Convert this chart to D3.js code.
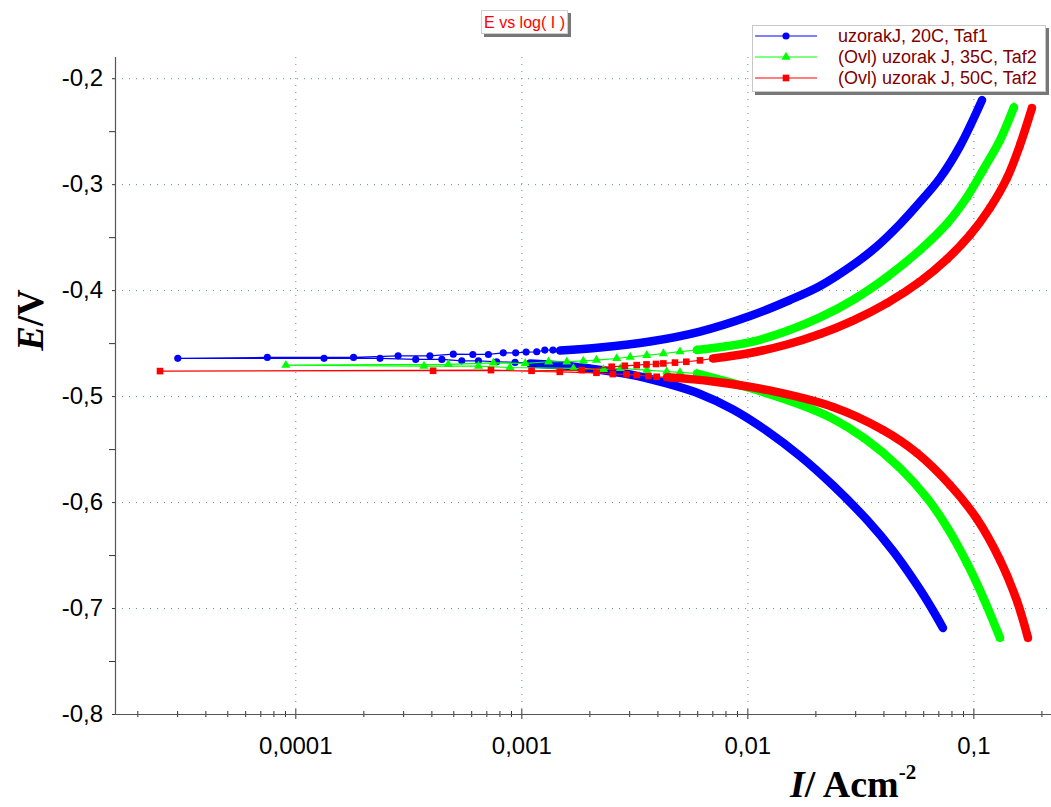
<!DOCTYPE html>
<html><head><meta charset="utf-8">
<script src="https://cdn.jsdelivr.net/npm/d3@7"></script>
<style>body{margin:0;background:#fff;} svg{display:block;}</style>
</head><body>
<svg id="chart" width="1051" height="807"></svg>
<script>
// ---------- data ----------
const seriesNames = ["uzorakJ, 20C, Taf1", "(Ovl) uzorak J, 35C, Taf2", "(Ovl) uzorak J, 50C, Taf2"];
const titleText = "E vs log( I )";
const xTickValues = [0.0001, 0.001, 0.01, 0.1];
const xTickLabels = ["0,0001", "0,001", "0,01", "0,1"];
const yTickValues = [-0.2, -0.3, -0.4, -0.5, -0.6, -0.7, -0.8];
const yTickLabels = ["-0,2", "-0,3", "-0,4", "-0,5", "-0,6", "-0,7", "-0,8"];

// uzorakJ, 20C (E in V, I in A/cm2), scan order
const blueCathE = [-0.7188,-0.7023,-0.6782,-0.6461,-0.6169,-0.5843,-0.5565,-0.5329,-0.5126,-0.4980,-0.4876,-0.4796,-0.4740,-0.4709,-0.4692];
const blueCathI = [0.07336,0.06627,0.0563,0.04408,0.03383,0.02393,0.01709,0.01221,0.00864,0.006173,0.004321,0.003026,0.002012,0.001483,0.001093];
const blueNearE = [-0.4682,-0.4676,-0.4667,-0.4667,-0.4654,-0.4654,-0.4644,-0.4644,-0.4644,-0.4635,-0.4635,-0.4620,-0.4620,-0.4604,-0.4607,-0.4607,-0.4592,-0.4592,-0.4585,-0.4582,-0.4566,-0.4566];
const blueNearI = [0.000938,0.000778,0.000646,0.000545,0.000445,0.000341,0.000237,0.000134,0.0000302,0.0000752,0.000181,0.000285,0.000394,0.000500,0.000610,0.000715,0.000832,0.000944,0.00105,0.00117,0.00127,0.00138];
const blueAnodE = [-0.4570,-0.4542,-0.4485,-0.4391,-0.4244,-0.4093,-0.3961,-0.3782,-0.3603,-0.3377,-0.3169,-0.2943,-0.2641,-0.2207];
const blueAnodI = [0.001483,0.002229,0.00371,0.006173,0.01027,0.01544,0.02097,0.02845,0.0367,0.04735,0.05803,0.07116,0.08726,0.1092];

// (Ovl) uzorak J, 35C
const greenCathE = [-0.7282,-0.6895,-0.6575,-0.6235,-0.5961,-0.5678,-0.5405,-0.5207,-0.5075,-0.4924,-0.4787];
const greenCathI = [0.1312,0.1103,0.09369,0.07641,0.06233,0.04735,0.03332,0.02357,0.01684,0.01027,0.005986];
const greenNearE = [-0.4777,-0.4768,-0.4755,-0.4739,-0.4748,-0.4739,-0.4730,-0.4717,-0.4717,-0.4708,-0.4701,-0.4686,-0.4692,-0.4676,-0.4676,-0.4668,-0.4660,-0.4645,-0.4631,-0.4615,-0.4598,-0.4581];
const greenNearI = [0.005035,0.004397,0.00359,0.00274,0.00231,0.00170,0.000891,0.000646,0.000371,0.0000908,0.000475,0.000752,0.00104,0.00132,0.00159,0.00188,0.00215,0.002642,0.00303,0.003587,0.00425,0.005035];
const greenAnodE = [-0.4565,-0.4532,-0.4485,-0.4386,-0.4258,-0.4093,-0.3876,-0.3622,-0.3372,-0.3122,-0.2867,-0.2584,-0.2273];
const greenAnodI = [0.005986,0.007964,0.01059,0.01497,0.02097,0.02934,0.04147,0.05803,0.07641,0.09369,0.1103,0.1312,0.1512];

// (Ovl) uzorak J, 50C
const redCathE = [-0.7282,-0.6933,-0.6546,-0.6159,-0.5839,-0.5537,-0.5320,-0.5103,-0.4942,-0.4862,-0.4823];
const redCathI = [0.1744,0.1559,0.1311,0.1037,0.0788,0.0563,0.03982,0.02393,0.01221,0.007047,0.00441];
const redNearE = [-0.4818,-0.4811,-0.4802,-0.4795,-0.4792,-0.4780,-0.4771,-0.4755,-0.4764,-0.4761,-0.4761,-0.4755,-0.4723,-0.4714,-0.4708,-0.4701,-0.4697,-0.4692,-0.4684,-0.4676,-0.4663];
const redNearI = [0.00397,0.00365,0.00324,0.00292,0.00254,0.00215,0.00148,0.000734,0.0000252,0.000407,0.00111,0.00185,0.00251,0.00287,0.00324,0.00358,0.003944,0.00425,0.004784,0.00537,0.006173];
const redAnodE = [-0.4645,-0.4593,-0.4513,-0.4414,-0.4287,-0.4122,-0.3919,-0.3707,-0.3480,-0.3225,-0.2942,-0.2631,-0.2282];
const redAnodI = [0.007047,0.01027,0.01497,0.02097,0.02934,0.04147,0.05803,0.07641,0.09661,0.1184,0.1409,0.1608,0.1816];

// ---------- chart ----------
const zip = (E, I) => E.map((e, k) => ({e, i: I[k]}));
const series = [
  {name: seriesNames[0], color: "#0000ff", symbol: d3.symbolCircle, size: 40,
   cath: zip(blueCathE, blueCathI), near: zip(blueNearE, blueNearI), anod: zip(blueAnodE, blueAnodI)},
  {name: seriesNames[1], color: "#00ff00", symbol: d3.symbolTriangle, size: 36,
   cath: zip(greenCathE, greenCathI), near: zip(greenNearE, greenNearI), anod: zip(greenAnodE, greenAnodI)},
  {name: seriesNames[2], color: "#ff0000", symbol: d3.symbolSquare, size: 44,
   cath: zip(redCathE, redCathI), near: zip(redNearE, redNearI), anod: zip(redAnodE, redAnodI)}
];

const svg = d3.select("#chart");
const L = 115, R = 1050, T = 57, B = 714;
const x = d3.scaleLog().domain([1.593e-5, 0.2183]).range([L, R]);
const y = d3.scaleLinear().domain([-0.8, -0.18]).range([B, T]);

const gridColor = "#5a9494";
// grid
svg.append("g").selectAll("line").data(yTickValues.filter(v => v > -0.8)).join("line")
  .attr("x1", L).attr("x2", R).attr("y1", d => y(d) + 0.5).attr("y2", d => y(d) + 0.5)
  .attr("stroke", gridColor).attr("stroke-width", 1).attr("stroke-dasharray", "1,6");
svg.append("g").selectAll("line").data(xTickValues).join("line")
  .attr("x1", d => x(d) + 0.5).attr("x2", d => x(d) + 0.5).attr("y1", T).attr("y2", B)
  .attr("stroke", gridColor).attr("stroke-width", 1).attr("stroke-dasharray", "1,6");

// y axis
const yMinor = d3.range(-0.75, -0.15, 0.1);
const gy = svg.append("g").attr("transform", `translate(${L},0)`)
  .call(d3.axisLeft(y).tickValues(yTickValues).tickFormat((d, k) => yTickLabels[k]).tickSize(3).tickPadding(9));
gy.select(".domain").remove();
gy.selectAll("text").attr("font-family", "Liberation Sans, Arial, sans-serif").attr("font-size", 24).attr("fill", "#000");
gy.selectAll("line").attr("stroke", "#333");
const gyMinor = svg.append("g").attr("transform", `translate(${L},0)`)
  .call(d3.axisLeft(y).tickValues(yMinor).tickFormat("").tickSize(6));
gyMinor.select(".domain").remove();
gyMinor.selectAll("line").attr("stroke", "#333");

// x axis
const xMinor = [];
[1e-5, 1e-4, 1e-3, 1e-2, 1e-1].forEach(dec => { for (let k = 2; k <= 9; k++) { const v = dec * k; if (v >= x.domain()[0] && v <= x.domain()[1]) xMinor.push(v); } });
const gx = svg.append("g").attr("transform", `translate(0,${B})`)
  .call(d3.axisBottom(x).tickValues(xTickValues).tickFormat((d, k) => xTickLabels[k]).tickSize(5).tickPadding(18));
gx.select(".domain").remove();
gx.selectAll(".tick line").attr("y1", -5).attr("stroke", "#333");
gx.selectAll("text").attr("font-family", "Liberation Sans, Arial, sans-serif").attr("font-size", 24).attr("fill", "#000");
const gxMinor = svg.append("g").attr("transform", `translate(0,${B})`)
  .call(d3.axisBottom(x).tickValues(xMinor).tickFormat("").tickSize(3));
gxMinor.select(".domain").remove();
gxMinor.selectAll(".tick line").attr("y1", -3).attr("stroke", "#333");

// axis lines
svg.append("line").attr("x1", L + 0.5).attr("x2", L + 0.5).attr("y1", T).attr("y2", B + 0.5).attr("stroke", "#555").attr("stroke-width", 1.2);
svg.append("line").attr("x1", L).attr("x2", R + 1).attr("y1", B + 0.5).attr("y2", B + 0.5).attr("stroke", "#555").attr("stroke-width", 1.2);

// series
const thin = d3.line().x(d => x(d.i)).y(d => y(d.e));
const band = d3.line().x(d => x(d.i)).y(d => y(d.e)).curve(d3.curveCatmullRom.alpha(0.5));
const plot = svg.append("g");
series.forEach(s => {
  const g = plot.append("g");
  const all = s.cath.concat(s.near, s.anod);
  g.append("path").attr("d", thin(all)).attr("fill", "none").attr("stroke", s.color).attr("stroke-width", 1.2);
  [s.cath, s.anod].forEach(part => {
    g.append("path").attr("d", band(part)).attr("fill", "none").attr("stroke", s.color)
      .attr("stroke-width", 8.5).attr("stroke-linecap", "round").attr("stroke-linejoin", "round");
  });
  g.selectAll("path.m").data(all).join("path").attr("class", "m")
    .attr("transform", d => `translate(${x(d.i)},${y(d.e)})`)
    .attr("d", d3.symbol().type(s.symbol).size(s.size)).attr("fill", s.color);
});

// y label
svg.append("text").attr("transform", "translate(43,320) rotate(-90)").attr("text-anchor", "middle")
  .attr("font-family", "Liberation Serif, Times New Roman, serif").attr("font-weight", "bold").attr("font-size", 37)
  .call(t => { t.append("tspan").attr("font-style", "italic").text("E"); t.append("tspan").text("/V"); });

// x label
svg.append("text").attr("x", 790).attr("y", 797)
  .attr("font-family", "Liberation Serif, Times New Roman, serif").attr("font-weight", "bold").attr("font-size", 38)
  .call(t => {
    t.append("tspan").attr("font-style", "italic").text("I");
    t.append("tspan").text("/ Acm");
    t.append("tspan").attr("font-size", 21).attr("dy", -18).text("-2");
  });

// title
const tg = svg.append("g");
tg.append("rect").attr("x", 484).attr("y", 13).attr("width", 87).attr("height", 24).attr("fill", "#777");
tg.append("rect").attr("x", 481.5).attr("y", 10.5).attr("width", 86).attr("height", 23).attr("fill", "#fff").attr("stroke", "#d0d0d0");
tg.append("text").attr("x", 524.5).attr("y", 28).attr("text-anchor", "middle")
  .attr("font-family", "Liberation Sans, Arial, sans-serif").attr("font-size", 16).attr("fill", "#ff0000").text(titleText);

// legend
const lg = svg.append("g");
lg.append("rect").attr("x", 755).attr("y", 28).attr("width", 294).attr("height", 67).attr("fill", "#777");
lg.append("rect").attr("x", 752.5).attr("y", 25.5).attr("width", 293).attr("height", 66).attr("fill", "#fff").attr("stroke", "#c8c8c8");
const rows = [36, 57, 78];
series.forEach((s, k) => {
  const r = lg.append("g").attr("transform", `translate(0,${rows[k]})`);
  r.append("line").attr("x1", 755).attr("x2", 817).attr("stroke", s.color).attr("stroke-width", 1.2);
  r.append("path").attr("transform", "translate(786,0)").attr("d", d3.symbol().type(s.symbol).size(s.size)).attr("fill", s.color);
  r.append("text").attr("x", 838).attr("y", 0).attr("dy", "0.35em")
    .attr("font-family", "Liberation Sans, Arial, sans-serif").attr("font-size", 18).attr("fill", "#800000").text(s.name);
});
</script>
</body></html>
